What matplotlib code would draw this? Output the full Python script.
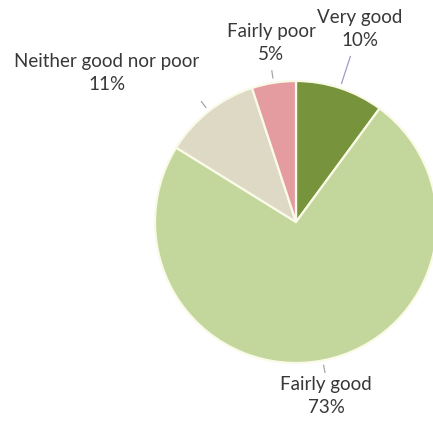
import numpy as np
import matplotlib
matplotlib.use("Agg")
import matplotlib.pyplot as plt

# Self-rated health shares
categories = ["Very good", "Fairly good", "Neither good nor poor", "Fairly poor"]
shares = [10, 73, 11, 5]
colors = ["#77933C", "#C3D69B", "#DDD9C4", "#E59CA0"]

# label centres (pie radius = 1) and how far each leader line reaches out
label_pos = [(0.454, 1.37), (0.215, -1.235), (-1.34, 1.055), (-0.177, 1.27)]
leader_out = [1.24, 1.09, 1.09, 1.09]
leader_colors = ["#9C9CC6", "#A6A6A6", "#A6A6A6", "#A6A6A6"]

plt.rcParams["font.family"] = ["Lato", "DejaVu Sans"]

fig = plt.figure(figsize=(4.33, 4.23), dpi=100)
ax = fig.add_axes([0, 0, 1, 1])

wedges, _ = ax.pie(shares, colors=colors, startangle=90, counterclock=False,
                   radius=1, wedgeprops=dict(edgecolor="#FAFAE8", linewidth=1.6))

for w, name, val, (lx, ly), r_out, lc in zip(wedges, categories, shares,
                                             label_pos, leader_out, leader_colors):
    mid = np.deg2rad((w.theta1 + w.theta2) / 2)
    ax.plot([1.03 * np.cos(mid), r_out * np.cos(mid)],
            [1.03 * np.sin(mid), r_out * np.sin(mid)],
            color=lc, lw=0.9, solid_capstyle="butt")
    ax.text(lx, ly, f"{name}\n{val}%", ha="center", va="center",
            fontsize=13.5, color="#383838", linespacing=1.45)

ax.set_xlim(-296 / 141, (433 - 296) / 141)
ax.set_ylim(-(423 - 222) / 141, 222 / 141)
ax.set_aspect("auto")
ax.axis("off")

fig.savefig("out.png", dpi=100, facecolor="white")
